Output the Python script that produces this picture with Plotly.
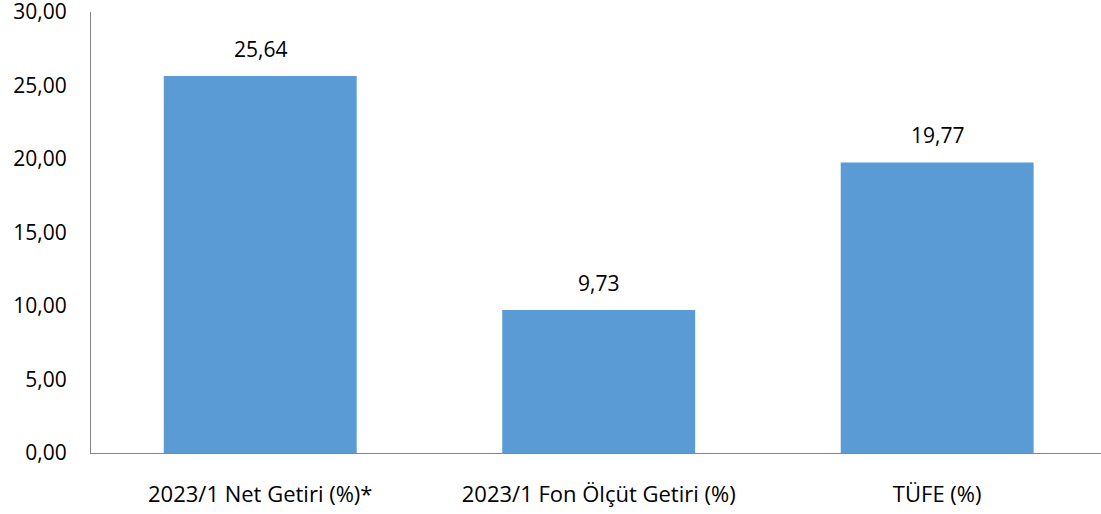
import plotly.graph_objects as go

categories = ["2023/1 Net Getiri (%)*", "2023/1 Fon Ölçüt Getiri (%)", "TÜFE (%)"]
values = [25.64, 9.73, 19.77]
y_ticks = [0, 5, 10, 15, 20, 25, 30]

FONT = "Open Sans"
fig = go.Figure()
fig.add_trace(go.Bar(x=categories, y=values, marker=dict(color="#5B9BD5", line=dict(width=0)),
                     hoverinfo="skip"))

for c, v in zip(categories, values):
    fig.add_annotation(x=c, y=v, text=f"{v:.2f}".replace(".", ","), showarrow=False,
                       yanchor="bottom", yshift=11, font=dict(family=FONT, size=21, color="#000000"))

fig.update_layout(
    width=1101, height=514,
    margin=dict(l=91, r=0, t=12, b=61),
    paper_bgcolor="white", plot_bgcolor="white",
    separators=",.",
    bargap=0.43,
    showlegend=False,
    font=dict(family=FONT, size=21, color="#000000"),
)
fig.update_xaxes(range=[-0.5, 2.484], showline=True, linecolor="#868686", linewidth=1,
                 showgrid=False, ticks="", ticklabelstandoff=22, automargin=False,
                 tickfont=dict(family=FONT, size=22, color="#000000"))
fig.update_yaxes(range=[0, 30.001], tickvals=y_ticks, tickformat=".2f", showline=True,
                 linecolor="#868686", linewidth=1, showgrid=False, zeroline=False,
                 ticks="", ticklabelstandoff=19, automargin=False, ticklabeloverflow="allow",
                 tickfont=dict(family=FONT, size=21, color="#000000"))

fig.write_html("out.html", config={"displayModeBar": False},
               post_script="document.body.style.margin='0';document.body.style.overflow='hidden';")
